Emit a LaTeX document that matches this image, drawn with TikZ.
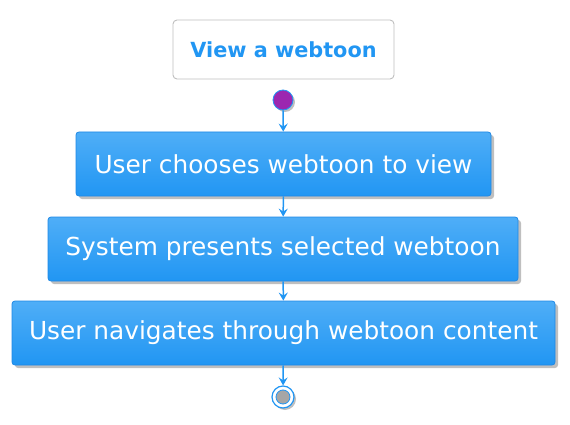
\documentclass[tikz,border=0pt]{standalone}
\usepackage{fontspec}
\setmainfont{DejaVu Sans}
\usetikzlibrary{arrows.meta,shadows}
\definecolor{actblue}{HTML}{2196F3}
\definecolor{actlight}{HTML}{4FAEF7}
\definecolor{actedge}{HTML}{1E88E5}
\definecolor{startpurple}{HTML}{9C27B0}
\begin{document}
\begin{tikzpicture}[x=1pt,y=-1pt,
    actbox/.style={draw=actedge,line width=0.8pt,rounded corners=3pt,top color=actlight,bottom color=actblue,
        text=white,font=\fontsize{24.8}{28}\selectfont,
        drop shadow={shadow xshift=3pt,shadow yshift=-3pt,opacity=0.5}},
    flow/.style={draw=actblue,line width=1.5pt,-{Stealth[length=8pt,width=9pt,inset=3pt]}}]
    \useasboundingbox (0,0) rectangle (570,425);
    \node[draw=black!25,line width=0.9pt,rounded corners=4pt,fill=white,minimum width=221pt,minimum height=59pt,
        text=actblue,font=\fontsize{20.8}{24}\selectfont\bfseries] (title) at (283.5,49.5) {View a webtoon};
    \node[circle,draw=actblue,line width=0.8pt,fill=startpurple,minimum size=20pt,inner sep=0pt,
        drop shadow={shadow xshift=2pt,shadow yshift=-2pt,opacity=0.5}] (start) at (283,100) {};
    \node[actbox,minimum width=415pt,minimum height=64pt] (choose) at (283.5,164) {User chooses webtoon to view};
    \node[actbox,minimum width=470pt,minimum height=64pt] (present) at (283,249) {System presents selected webtoon};
    \node[actbox,minimum width=543pt,minimum height=64pt] (navigate) at (283.5,333) {User navigates through webtoon content};
    \node[circle,draw=actblue,line width=1.2pt,fill=white,minimum size=22pt,inner sep=0pt,
        drop shadow={shadow xshift=2pt,shadow yshift=-2pt,opacity=0.5}] (stop) at (283,397) {};
    \node[circle,draw=actblue,line width=0.8pt,fill=black!35,minimum size=14pt,inner sep=0pt] (stopdot) at (stop) {};

    \draw[flow] (start) -- (choose);
    \draw[flow] (choose) -- (present);
    \draw[flow] (present) -- (navigate);
    \draw[flow] (navigate) -- (stop);
\end{tikzpicture}
\end{document}
